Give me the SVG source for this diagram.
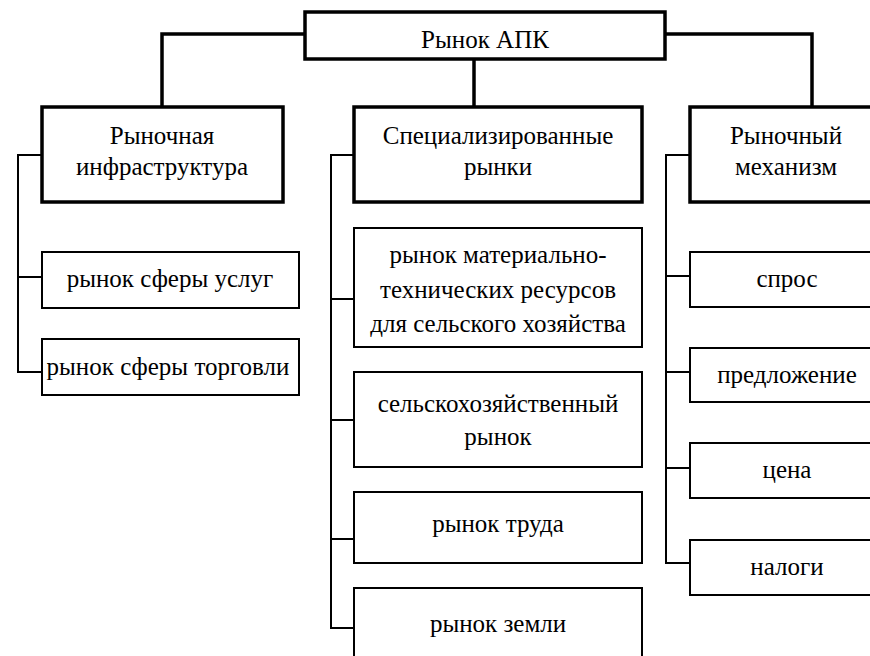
<svg xmlns="http://www.w3.org/2000/svg" width="870" height="656" viewBox="0 0 870 656">
<style>
.main{fill:#fff;stroke:#000;stroke-width:3.5}
.leaf{fill:#fff;stroke:#000;stroke-width:2}
.thick{fill:none;stroke:#000;stroke-width:3.5}
.thin{fill:none;stroke:#000;stroke-width:2}
.t{font-family:'Liberation Serif','Times New Roman','DejaVu Serif',serif;font-size:25px;text-anchor:middle;fill:#000}
</style>
<rect width="870" height="656" fill="#fff"/>
<g id="connectors">
<polyline class="thick" points="305,34 162,34 162,107"/>
<polyline class="thick" points="474,59 474,107"/>
<polyline class="thick" points="665,34 812,34 812,107"/>
<polyline class="thin" points="42,155 18,155 18,372 42,372"/>
<line class="thin" x1="18" y1="277" x2="42" y2="277"/>
<polyline class="thin" points="354,155 331,155 331,628 354,628"/>
<line class="thin" x1="331" y1="299" x2="354" y2="299"/>
<line class="thin" x1="331" y1="420" x2="354" y2="420"/>
<line class="thin" x1="331" y1="539" x2="354" y2="539"/>
<polyline class="thin" points="690,155 666,155 666,563 690,563"/>
<line class="thin" x1="666" y1="276" x2="690" y2="276"/>
<line class="thin" x1="666" y1="372" x2="690" y2="372"/>
<line class="thin" x1="666" y1="468" x2="690" y2="468"/>
</g>
<g id="root"><rect class="main" x="305" y="12" width="360" height="47"/><text class="t" x="485" y="48">Рынок АПК</text></g>
<g id="infra"><rect class="main" x="42" y="107" width="241" height="95"/><text class="t" x="162" y="144">Рыночная</text><text class="t" x="162" y="175">инфраструктура</text></g>
<g id="spec"><rect class="main" x="354" y="107" width="288" height="95"/><text class="t" x="498" y="144">Специализированные</text><text class="t" x="498" y="175">рынки</text></g>
<g id="mech"><rect class="main" x="690" y="107" width="200" height="95"/><text class="t" x="786" y="144">Рыночный</text><text class="t" x="786" y="175">механизм</text></g>
<g id="services"><rect class="leaf" x="42" y="252" width="257" height="56"/><text class="t" x="170" y="287">рынок сферы услуг</text></g>
<g id="trade"><rect class="leaf" x="42" y="339" width="257" height="56"/><text class="t" x="168" y="375">рынок сферы торговли</text></g>
<g id="material"><rect class="leaf" x="354" y="228" width="288" height="119"/><text class="t" x="498" y="263">рынок материально-</text><text class="t" x="498" y="298">технических ресурсов</text><text class="t" x="498" y="332">для сельского хозяйства</text></g>
<g id="agri"><rect class="leaf" x="354" y="372" width="288" height="95"/><text class="t" x="498" y="412">сельскохозяйственный</text><text class="t" x="498" y="445">рынок</text></g>
<g id="labor"><rect class="leaf" x="354" y="492" width="288" height="71"/><text class="t" x="498" y="532">рынок труда</text></g>
<g id="land"><rect class="leaf" x="354" y="588" width="288" height="90"/><text class="t" x="498" y="632">рынок земли</text></g>
<g id="demand"><rect class="leaf" x="690" y="252" width="200" height="55"/><text class="t" x="787" y="287">спрос</text></g>
<g id="supply"><rect class="leaf" x="690" y="348" width="200" height="54"/><text class="t" x="787" y="383">предложение</text></g>
<g id="price"><rect class="leaf" x="690" y="443" width="200" height="55"/><text class="t" x="787" y="478">цена</text></g>
<g id="taxes"><rect class="leaf" x="690" y="540" width="200" height="55"/><text class="t" x="787" y="575">налоги</text></g>
</svg>
